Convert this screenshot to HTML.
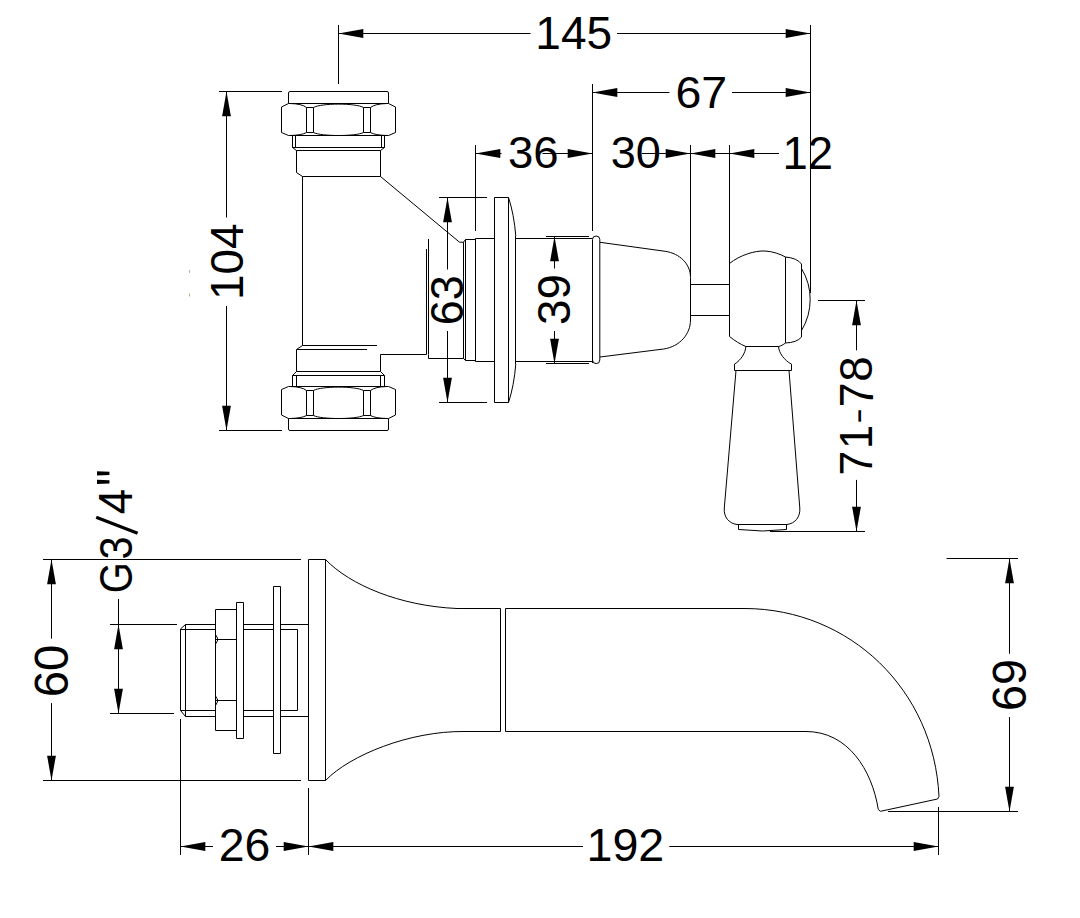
<!DOCTYPE html>
<html><head><meta charset="utf-8"><style>
html,body{margin:0;padding:0;background:#fff;}
svg{display:block;}
</style></head><body>
<svg width="1080" height="918" viewBox="0 0 1080 918">
<rect width="1080" height="918" fill="#fff"/>
<rect x="189" y="270" width="1" height="3" fill="#b49a70" opacity="0.8"/><rect x="189" y="293.5" width="1" height="3" fill="#b49a70" opacity="0.8"/>
<g fill="none" stroke="#000" stroke-width="1" stroke-linejoin="round">
<line x1="338.5" y1="25" x2="338.5" y2="84"/>
<line x1="810.5" y1="25" x2="810.5" y2="293"/>
<line x1="338.5" y1="33.5" x2="530.5" y2="33.5"/>
<line x1="617" y1="33.5" x2="810.5" y2="33.5"/>
<line x1="592.5" y1="84" x2="592.5" y2="231"/>
<line x1="592.5" y1="92.5" x2="669.5" y2="92.5"/>
<line x1="732" y1="92.5" x2="810.5" y2="92.5"/>
<line x1="475.5" y1="145" x2="475.5" y2="231"/>
<line x1="475.5" y1="153.5" x2="501.5" y2="153.5"/>
<line x1="542.5" y1="153.5" x2="592.5" y2="153.5"/>
<line x1="642" y1="153.5" x2="690.5" y2="153.5"/>
<line x1="690.5" y1="145" x2="690.5" y2="276"/>
<line x1="729.5" y1="145" x2="729.5" y2="263"/>
<line x1="690.5" y1="153.5" x2="779" y2="153.5"/>
<line x1="219" y1="91.5" x2="282" y2="91.5"/>
<line x1="219" y1="430.5" x2="282" y2="430.5"/>
<line x1="226.5" y1="91.5" x2="226.5" y2="217.5"/>
<line x1="226.5" y1="306" x2="226.5" y2="430.5"/>
<line x1="439" y1="197.5" x2="487" y2="197.5"/>
<line x1="439" y1="402.5" x2="487" y2="402.5"/>
<line x1="447.5" y1="197.5" x2="447.5" y2="269.5"/>
<line x1="447.5" y1="331" x2="447.5" y2="402.5"/>
<line x1="546" y1="236.5" x2="589" y2="236.5"/>
<line x1="546" y1="363.5" x2="589" y2="363.5"/>
<line x1="554.5" y1="236.5" x2="554.5" y2="268.5"/>
<line x1="554.5" y1="331" x2="554.5" y2="363.5"/>
<line x1="818" y1="300.5" x2="865" y2="300.5"/>
<line x1="770" y1="531.5" x2="865" y2="531.5"/>
<line x1="856.5" y1="300.5" x2="856.5" y2="350.3"/>
<line x1="856.5" y1="479.9" x2="856.5" y2="531.5"/>
<path d="M288.5,103.5 V93 Q288.5,91.5 290,91.5 H387 Q388.5,91.5 388.5,93 V103.5" />
<path d="M288.5,103.5 H388.5 L395.5,107 V132.5 L388.5,135.5 H288.5 L281.5,132.5 V107 Z" />
<path d="M306.5,107.5 V132.5 M313.5,107.5 V132.5 M363.5,107.5 V132.5 M370.5,107.5 V132.5 M306.5,107.5 H313.5 M306.5,132.5 H313.5 M363.5,107.5 H370.5 M363.5,132.5 H370.5" />
<path d="M290,103.5 Q302,103.8 306.5,107.5 M290,135.5 Q302,135.2 306.5,132.5 M313.5,107.5 C321,103 356,103 363.5,107.5 M313.5,132.5 C321,136.5 356,136.5 363.5,132.5 M370.5,107.5 Q375,103.8 387,103.5 M370.5,132.5 Q375,135.2 387,135.5" />
<path d="M292.5,135.5 V147.5 H384.5 V135.5 M295.5,135.5 V147.5 M381.5,135.5 V147.5" />
<path d="M292.5,147.5 L296.5,150.5 H380.5 L384.5,147.5" />
<path d="M296.5,150.5 V172.5 L302.5,176.5 H380.5 V150.5" />
<path d="M302.5,176.5 V345.5" />
<path d="M380.5,176.5 L459.5,242.2 H463.5" />
<path d="M302.5,345.5 H377 M302.5,345.5 L296.5,349.5 H367 M296.5,349.5 V371.5 H380.5 V354.5 H426.5" />
<path d="M296.5,371.5 L292.5,375.5 H384.5 L380.5,371.5" />
<path d="M292.5,375.5 V386.5 M384.5,375.5 V386.5 M296.5,375.5 V386.5 M380.5,375.5 V386.5" />
<path d="M288.5,386.5 H388.5 L395.5,389.5 V415 L388.5,418.5 H288.5 L281.5,415 V389.5 Z" />
<path d="M306.5,390.5 V415.5 M313.5,390.5 V415.5 M363.5,390.5 V415.5 M370.5,390.5 V415.5 M306.5,390.5 H313.5 M306.5,415.5 H313.5 M363.5,390.5 H370.5 M363.5,415.5 H370.5" />
<path d="M290,386.5 Q302,386.8 306.5,390.5 M290,418.5 Q302,418.2 306.5,415.5 M313.5,390.5 C321,386 356,386 363.5,390.5 M313.5,415.5 C321,419.5 356,419.5 363.5,415.5 M370.5,390.5 Q375,386.8 387,386.5 M370.5,415.5 Q375,418.2 387,418.5" />
<path d="M288.5,418.5 V429 Q288.5,430.5 290,430.5 H387 Q388.5,430.5 388.5,429 V418.5" />
<path d="M426.5,249 V354.5 M428.5,239 V354.5 L428.5,358.5 H463.5" />
<path d="M463.5,242.2 V358.5 M465.5,239.5 V360.5 M463.5,242.2 L465.5,239.5 M463.5,358.5 L465.5,360.5" />
<path d="M465.5,239.5 H475.5 M465.5,360.5 H475.5" />
<path d="M475.5,238.5 V361.5 M475.5,238.5 H494.5 M475.5,361.5 H494.5" />
<path d="M494.5,197.5 H508.5 V402.5 H494.5 Z" />
<path d="M508.5,197.5 Q514,214 515.8,236 M508.5,402.5 Q514,386 515.8,364" />
<path d="M515.5,236 V364 M515.5,238.5 H592.5 M515.5,361.5 H592.5" />
<path d="M592.5,363 V239.5 Q592.5,236 596.2,236 Q599.8,236 599.8,239.5 V360 Q599.8,363.6 596.2,363.6 Q592.5,363.6 592.5,360" />
<path d="M600,242.3 L665.2,251.3 C680,253.5 690.5,264 690.5,277.5 V320 C690.5,334 680,346.5 663.7,349 L600,357" />
<path d="M690.5,284.5 H729.5 M690.5,315.5 H729.5" />
<path d="M729.5,263 V336.5 M729.5,263.5 C740,255 755,250.5 765,251 C773,251.5 780,254 785.5,257 M729.5,336.5 C735,341 740,344 745.8,346.5 M778.5,346.5 C781,346 783.5,344.5 785.5,343" />
<path d="M785.5,257 V343 M785.5,257 Q797,258 801.5,264 V337 Q797,342.5 785.5,343 M801.5,268.5 A59.7,59.7 0 0 1 801.5,330.5" />
<path d="M745.8,346.5 H778.5 M745.8,346.5 C745.5,353 741,360 734.5,364.2 V370.5 H791.5 V364.2 C784,360 779,353 778.5,346.5" />
<path d="M736,370.5 L724.3,508 C723.5,517 729,523.5 737,524.5 M789,370.5 L799.8,508 C800.5,517 795,523.5 787,524.5" />
<path d="M737,524.5 H787 M738.5,524.5 V529.5 Q762.5,532.5 786.5,529.5 V524.5" />
<line x1="43" y1="559.5" x2="301" y2="559.5"/>
<line x1="43" y1="780.5" x2="301" y2="780.5"/>
<line x1="51.5" y1="559.5" x2="51.5" y2="638.7"/>
<line x1="51.5" y1="703.1" x2="51.5" y2="780.5"/>
<line x1="110" y1="624.5" x2="177" y2="624.5"/>
<line x1="110" y1="713.5" x2="174" y2="713.5"/>
<line x1="118.5" y1="599" x2="118.5" y2="713.5"/>
<line class="sl" x1="96.2" y1="517.3" x2="137.6" y2="533.2" stroke-width="3.3" stroke-linecap="butt"/>
<line x1="946.5" y1="558.5" x2="1018" y2="558.5"/>
<line x1="888" y1="811.5" x2="1018" y2="811.5"/>
<line x1="1009.5" y1="558.5" x2="1009.5" y2="653.7"/>
<line x1="1009.5" y1="717.1" x2="1009.5" y2="811.5"/>
<line x1="180.5" y1="719" x2="180.5" y2="855"/>
<line x1="308.5" y1="788" x2="308.5" y2="855"/>
<line x1="938.5" y1="807" x2="938.5" y2="855"/>
<line x1="180.5" y1="846.5" x2="213" y2="846.5"/>
<line x1="276" y1="846.5" x2="308.5" y2="846.5"/>
<line x1="308.5" y1="846.5" x2="583" y2="846.5"/>
<line x1="669.3" y1="846.5" x2="938.5" y2="846.5"/>
<path d="M185.5,624.5 H215.5 M185.5,716.5 H215.5 M185.5,624.5 L180.5,629 V710.5 L185.5,716.5 M185.5,624.5 V716.5 M180.5,629.5 H215.5 M180.5,710.5 H215.5" />
<path d="M215.5,609.5 H236.5 V730.5 H215.5 Z M215.5,639.5 H236.5 M215.5,700.5 H236.5" />
<path d="M215.5,634.5 Q217,637 218,639.5 Q217,642 215.5,644 M215.5,696 Q217,698.5 218,700.5 Q217,703 215.5,705.5" />
<path d="M236.5,602.5 H243.5 V738.5 H236.5 Z" />
<path d="M243.5,624.5 H273.5 M243.5,716.5 H273.5 M243.5,629.5 H273.5 M243.5,710.5 H273.5" />
<path d="M273.5,586.5 H280.5 V753.5 H273.5 Z" />
<path d="M280.5,624.5 H308.5 M280.5,716.5 H308.5 M280.5,629.5 H297.5 V710.5 H280.5" />
<path d="M308.5,559.5 H325.5 V780.5 H308.5 Z" />
<path d="M325.5,559.5 C350,585 400,606 457,608.5 H500.5 M325.5,780.5 C350,755 410,731 464,731.5 H500.5" />
<path d="M500.5,608.5 V731.5 M505.5,608.5 V731.5" />
<path d="M505.5,608.5 H745 C850,609 934,690 939,796.5 L937.5,799 L880.5,811.3 L878.3,809.5 C872,770 848,731.5 806,731.5 H505.5" />
</g>
<g fill="#000" stroke="none">
<polygon class="f" points="338.50,33.50 363.30,29.10 363.30,37.90"/>
<polygon class="f" points="810.50,33.50 785.70,29.10 785.70,37.90"/>
<polygon class="f" points="592.50,92.50 617.30,88.10 617.30,96.90"/>
<polygon class="f" points="810.50,92.50 785.70,88.10 785.70,96.90"/>
<polygon class="f" points="475.50,153.50 500.30,149.10 500.30,157.90"/>
<polygon class="f" points="592.50,153.50 567.70,149.10 567.70,157.90"/>
<polygon class="f" points="690.50,153.50 665.70,149.10 665.70,157.90"/>
<polygon class="f" points="690.50,153.50 715.30,149.10 715.30,157.90"/>
<polygon class="f" points="729.50,153.50 754.30,149.10 754.30,157.90"/>
<polygon class="f" points="226.50,91.50 222.10,116.30 230.90,116.30"/>
<polygon class="f" points="226.50,430.50 222.10,405.70 230.90,405.70"/>
<polygon class="f" points="447.50,197.50 443.10,222.30 451.90,222.30"/>
<polygon class="f" points="447.50,402.50 443.10,377.70 451.90,377.70"/>
<polygon class="f" points="554.50,236.50 550.10,261.30 558.90,261.30"/>
<polygon class="f" points="554.50,363.50 550.10,338.70 558.90,338.70"/>
<polygon class="f" points="856.50,300.50 852.10,325.30 860.90,325.30"/>
<polygon class="f" points="856.50,531.50 852.10,506.70 860.90,506.70"/>
<polygon class="f" points="51.50,559.50 47.10,584.30 55.90,584.30"/>
<polygon class="f" points="51.50,780.50 47.10,755.70 55.90,755.70"/>
<polygon class="f" points="118.50,624.50 114.10,649.30 122.90,649.30"/>
<polygon class="f" points="118.50,713.50 114.10,688.70 122.90,688.70"/>
<polygon class="f" points="1009.50,558.50 1005.10,583.30 1013.90,583.30"/>
<polygon class="f" points="1009.50,811.50 1005.10,786.70 1013.90,786.70"/>
<polygon class="f" points="180.50,846.50 205.30,842.10 205.30,850.90"/>
<polygon class="f" points="308.50,846.50 283.70,842.10 283.70,850.90"/>
<polygon class="f" points="308.50,846.50 333.30,842.10 333.30,850.90"/>
<polygon class="f" points="938.50,846.50 913.70,842.10 913.70,850.90"/>
</g>
<g font-family="Liberation Sans, sans-serif" font-size="100" fill="#000">
<text transform="matrix(0.4606,0.0000,0.0000,0.4557,535.3148,48.5443)">145</text>
<text transform="matrix(0.4653,0.0000,0.0000,0.4521,675.4733,107.5479)">67</text>
<text transform="matrix(0.4553,0.0000,0.0000,0.4507,507.9786,168.1493)">36</text>
<text transform="matrix(0.4515,0.0000,0.0000,0.4507,610.6942,168.1493)">30</text>
<text transform="matrix(0.4551,0.0000,0.0000,0.4529,782.4592,168.8000)">12</text>
<text transform="matrix(0.0000,-0.4590,0.4577,0.0000,242.6423,300.0718)">104</text>
<text transform="matrix(0.0000,-0.4500,0.4577,0.0000,462.5423,325.3500)">63</text>
<text transform="matrix(0.0000,-0.4569,0.4648,0.0000,570.2352,324.9275)">39</text>
<text transform="matrix(0.0000,-0.4574,0.4662,0.0000,871.9338,381.6298)">8</text>
<text transform="matrix(0.0000,-0.4435,0.4794,0.0000,872.8794,407.2174)">7</text>
<text transform="matrix(0.0000,-0.4680,0.3375,0.0000,868.5625,423.7720)">-</text>
<text transform="matrix(0.0000,-0.4326,0.4652,0.0000,871.7000,448.9605)">1</text>
<text transform="matrix(0.0000,-0.4457,0.4662,0.0000,872.1662,475.4283)">7</text>
<text transform="matrix(0.0000,-0.4745,0.4732,0.0000,67.7268,697.3725)">60</text>
<text transform="matrix(0.0000,-0.4000,0.4704,0.0000,131.9296,593.3000)">G</text>
<text transform="matrix(0.0000,-0.4170,0.4704,0.0000,131.9296,559.5681)">3</text>
<text transform="matrix(0.0000,-0.4549,0.4824,0.0000,132.2824,514.3098)">4</text>
<text transform="matrix(0.0000,-0.4741,0.5818,0.0000,136.8455,485.9963)">&quot;</text>
<text transform="matrix(0.0000,-0.4683,0.4718,0.0000,1025.6282,711.0416)">69</text>
<text transform="matrix(0.4637,0.0000,0.0000,0.4662,218.6814,861.4338)">26</text>
<text transform="matrix(0.4662,0.0000,0.0000,0.4620,586.4701,861.4380)">192</text>
</g>
</svg>
</body></html>
